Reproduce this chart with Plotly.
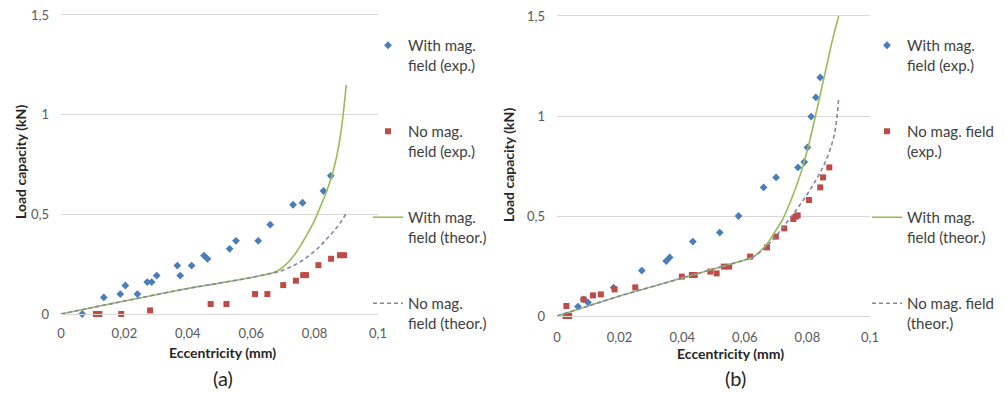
import plotly.graph_objects as go

# ---- Panel (a) ----
a_with_exp_x = [0.0067, 0.0135, 0.0187, 0.0203, 0.0241, 0.0272, 0.0286, 0.0302, 0.0367, 0.0376,
                0.0412, 0.0451, 0.0462, 0.0532, 0.0552, 0.0622, 0.0660, 0.0732, 0.0762, 0.0828, 0.0851]
a_with_exp_y = [0.0, 0.083, 0.10, 0.143, 0.10, 0.16, 0.16, 0.193, 0.243, 0.193,
                0.243, 0.293, 0.277, 0.327, 0.367, 0.367, 0.448, 0.548, 0.558, 0.617, 0.693]
a_no_exp_x = [0.0110, 0.0121, 0.0190, 0.0281, 0.0472, 0.0522, 0.0612, 0.0651, 0.0701, 0.0741,
              0.0764, 0.0773, 0.0812, 0.0852, 0.0880, 0.0893]
a_no_exp_y = [0.0, 0.0, 0.0, 0.018, 0.05, 0.05, 0.10, 0.10, 0.145, 0.167,
              0.195, 0.195, 0.245, 0.277, 0.295, 0.295]
a_with_th_x = [0.0, 0.01, 0.02, 0.03, 0.04, 0.05, 0.06, 0.066, 0.068, 0.070, 0.072, 0.074, 0.076,
               0.078, 0.080, 0.082, 0.084, 0.086, 0.088, 0.089, 0.090]
a_with_th_y = [0.0, 0.033, 0.065, 0.097, 0.128, 0.155, 0.183, 0.203, 0.213, 0.235, 0.265, 0.305, 0.355,
               0.41, 0.47, 0.545, 0.625, 0.725, 0.88, 1.0, 1.15]
a_no_th_x = [0.0, 0.01, 0.02, 0.03, 0.04, 0.05, 0.06, 0.066, 0.068, 0.070, 0.072, 0.074, 0.076,
             0.078, 0.080, 0.082, 0.084, 0.086, 0.088, 0.090]
a_no_th_y = [0.0, 0.033, 0.065, 0.097, 0.128, 0.155, 0.183, 0.203, 0.21, 0.22, 0.233, 0.248, 0.267,
             0.29, 0.315, 0.345, 0.38, 0.415, 0.455, 0.505]

# ---- Panel (b) ----
b_with_exp_x = [0.0067, 0.0085, 0.0099, 0.0181, 0.0271, 0.0349, 0.0360, 0.0434, 0.0520, 0.0580,
                0.0660, 0.0700, 0.0770, 0.0790, 0.0800, 0.0812, 0.0827, 0.0841]
b_with_exp_y = [0.047, 0.083, 0.068, 0.142, 0.227, 0.275, 0.293, 0.372, 0.417, 0.50,
                0.643, 0.693, 0.743, 0.77, 0.843, 0.997, 1.093, 1.193]
b_no_exp_x = [0.0030, 0.0027, 0.0039, 0.0085, 0.0115, 0.0140, 0.0184, 0.0250, 0.0399, 0.0431,
              0.0440, 0.0490, 0.0510, 0.0533, 0.0550, 0.0617, 0.0671, 0.0699, 0.0726, 0.0755,
              0.0763, 0.0769, 0.0805, 0.0841, 0.0850, 0.0870]
b_no_exp_y = [0.05, 0.0, 0.0, 0.083, 0.103, 0.108, 0.133, 0.143, 0.197, 0.205,
              0.205, 0.222, 0.213, 0.247, 0.247, 0.297, 0.343, 0.397, 0.438, 0.485,
              0.497, 0.503, 0.58, 0.643, 0.693, 0.743]
b_with_th_x = [0.0, 0.01, 0.02, 0.03, 0.04, 0.05, 0.06, 0.062, 0.064, 0.066, 0.068, 0.070, 0.072,
               0.074, 0.076, 0.078, 0.080, 0.082, 0.084, 0.086, 0.088, 0.090]
b_with_th_y = [0.0, 0.05, 0.10, 0.145, 0.19, 0.235, 0.28, 0.29, 0.31, 0.34, 0.38, 0.43, 0.48,
               0.55, 0.63, 0.72, 0.83, 0.96, 1.10, 1.24, 1.38, 1.50]
b_no_th_x = [0.0, 0.01, 0.02, 0.03, 0.04, 0.05, 0.06, 0.062, 0.064, 0.066, 0.068, 0.070, 0.072,
             0.074, 0.076, 0.078, 0.080, 0.082, 0.084, 0.086, 0.088, 0.089, 0.090]
b_no_th_y = [0.0, 0.05, 0.10, 0.145, 0.19, 0.235, 0.28, 0.29, 0.31, 0.335, 0.365, 0.40, 0.44,
             0.48, 0.52, 0.565, 0.61, 0.66, 0.715, 0.78, 0.87, 0.94, 1.09]

x_ticks = [0, 0.02, 0.04, 0.06, 0.08, 0.1]
x_tick_text = ["0", "0,02", "0,04", "0,06", "0,08", "0,1"]
y_ticks = [0, 0.5, 1, 1.5]
y_tick_text = ["0", "0,5", "1", "1,5"]

names_a = ["With mag.<br>field (exp.)", "No mag.<br>field (exp.)",
           "With mag.<br>field (theor.)", "No mag.<br>field (theor.)"]
names_b = ["With mag.<br>field (exp.)", "No mag. field<br>(exp.)",
           "With mag.<br>field (theor.)", "No mag. field<br>(theor.)"]

BLUE = "#4A7EBB"
RED = "#BE4B48"
GREEN = "#9BBB59"
DASH = "#8585A3"
GRID = "#D9D9D9"
FONT = "Lato"

fig = go.Figure()


def add_panel(xa, ya, legend, names, gid, wx, wy, nx, ny, tx, ty, dx, dy):
    fig.add_trace(go.Scatter(x=wx, y=wy, mode="markers", name=names[0], xaxis=xa, yaxis=ya,
                             legend=legend, legendgroup=gid + "1", cliponaxis=False,
                             marker=dict(symbol="diamond", size=6, color=BLUE)))
    fig.add_trace(go.Scatter(x=nx, y=ny, mode="markers", name=names[1], xaxis=xa, yaxis=ya,
                             legend=legend, legendgroup=gid + "2", cliponaxis=False,
                             marker=dict(symbol="square", size=6, color=RED)))
    fig.add_trace(go.Scatter(x=tx, y=ty, mode="lines", name=names[2], xaxis=xa, yaxis=ya,
                             legend=legend, legendgroup=gid + "3", line_shape="spline",
                             line=dict(color=GREEN, width=1.6)))
    fig.add_trace(go.Scatter(x=dx, y=dy, mode="lines", name=names[3], xaxis=xa, yaxis=ya,
                             legend=legend, legendgroup=gid + "4", line_shape="spline",
                             line=dict(color=DASH, width=1.6, dash="4px,3px")))


add_panel("x", "y", "legend", names_a, "a",
          a_with_exp_x, a_with_exp_y, a_no_exp_x, a_no_exp_y,
          a_with_th_x, a_with_th_y, a_no_th_x, a_no_th_y)
add_panel("x2", "y2", "legend2", names_b, "b",
          b_with_exp_x, b_with_exp_y, b_no_exp_x, b_no_exp_y,
          b_with_th_x, b_with_th_y, b_no_th_x, b_no_th_y)

W, H = 1006, 393


def px_x(p):
    return p / W


def px_y(p):
    return 1 - p / H


# horizontal rules at 0 and 1.5 come from the x axis line (mirrored to the top)
xcommon = dict(range=[0, 0.1], tickvals=x_ticks, ticktext=x_tick_text, showgrid=False,
               zeroline=False, showline=True, mirror=True, linecolor=GRID, linewidth=1,
               ticks="", fixedrange=True,
               tickfont=dict(family=FONT, size=13, color="#595959"))
ycommon = dict(range=[0, 1.5], tickvals=y_ticks, ticktext=y_tick_text, showgrid=True,
               gridcolor=GRID, gridwidth=1, zeroline=False, showline=False, ticks="",
               fixedrange=True, ticklabelstandoff=11,
               tickfont=dict(family=FONT, size=13, color="#595959"))

legcommon = dict(font=dict(family=FONT, size=15, color="#404040"), bgcolor="rgba(0,0,0,0)",
                 borderwidth=0, valign="top", tracegroupgap=44, itemwidth=30,
                 xanchor="left", yanchor="top")

fig.update_layout(
    width=W, height=H, margin=dict(l=0, r=0, t=0, b=0, autoexpand=False),
    paper_bgcolor="white", plot_bgcolor="white",
    xaxis=dict(domain=[px_x(61), px_x(378)], anchor="y", ticklabelstandoff=7, **xcommon),
    yaxis=dict(domain=[px_y(314), px_y(15)], anchor="x", **ycommon),
    xaxis2=dict(domain=[px_x(557), px_x(870)], anchor="y2", ticklabelstandoff=9, **xcommon),
    yaxis2=dict(domain=[px_y(316), px_y(16)], anchor="x2", **ycommon),
    legend=dict(x=px_x(368), y=px_y(29), **legcommon),
    legend2=dict(x=px_x(867), y=px_y(29), **legcommon),
    showlegend=True,
)

annots = [
    dict(text="<b>Load capacity (kN)</b>", x=px_x(20), y=px_y(162), textangle=-90),
    dict(text="<b>Eccentricity (mm)</b>", x=px_x(222), y=px_y(352)),
    dict(text="(a)", x=px_x(223), y=px_y(378), size=20),
    dict(text="<b>Load capacity (kN)</b>", x=px_x(509), y=px_y(165), textangle=-90),
    dict(text="<b>Eccentricity (mm)</b>", x=px_x(730), y=px_y(353)),
    dict(text="(b)", x=px_x(735), y=px_y(378), size=20),
]
for a in annots:
    size = a.pop("size", 14)
    fig.add_annotation(xref="paper", yref="paper", showarrow=False, xanchor="center",
                       yanchor="middle", font=dict(family=FONT, size=size, color="#262626"), **a)

fig.write_html("out.html")
